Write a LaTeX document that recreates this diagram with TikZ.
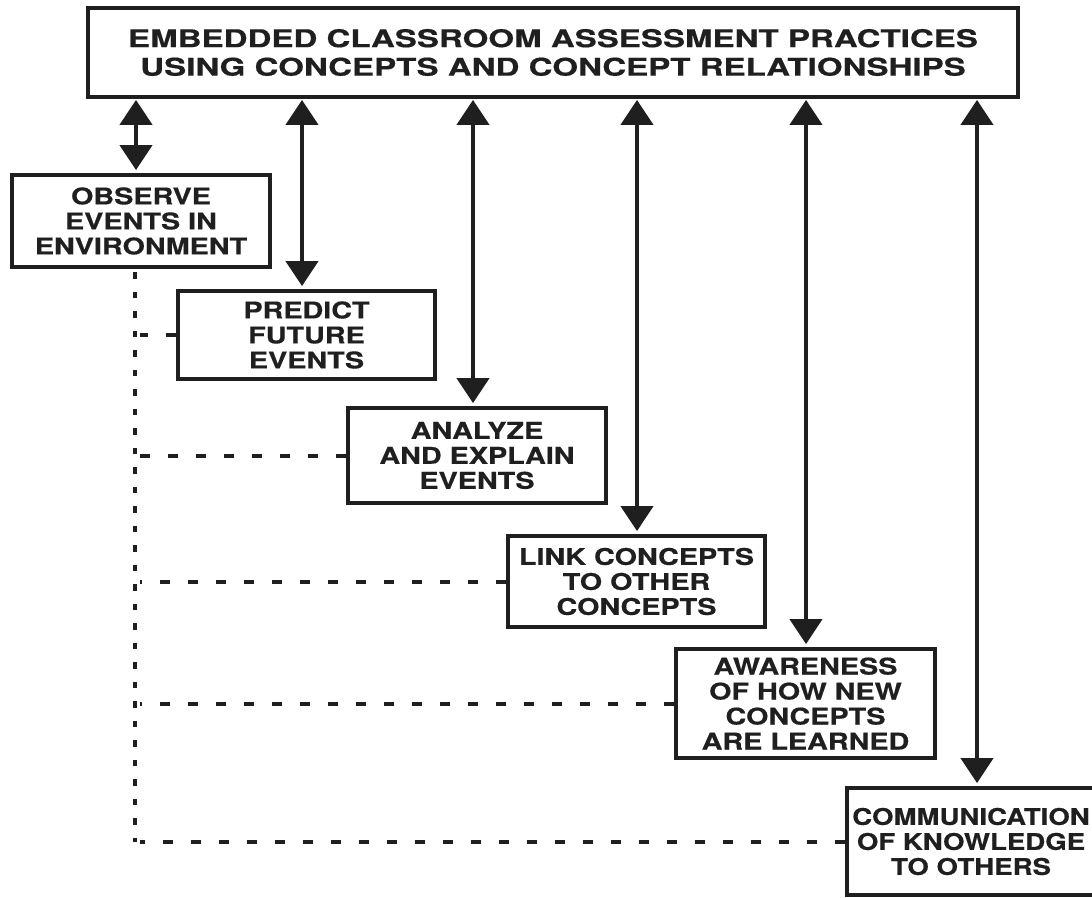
\documentclass[tikz,border=0pt]{standalone}
\usepackage{fontspec}
\newfontfamily\heavyfont{TeX Gyre Heros}[FakeStretch=1.25,FakeBold=0.5]
\newfontfamily\snugfont{TeX Gyre Heros}[FakeStretch=1.2,FakeBold=0.5]
\newfontfamily\headfont{TeX Gyre Heros}[FakeStretch=1.35,FakeBold=0.5]
\usetikzlibrary{arrows.meta}
\begin{document}
\begin{tikzpicture}[x=1pt,y=-1pt,
  stage/.style={draw=black!88, line width=3.8pt, align=center, inner sep=0pt,
    text=black!88, font=\heavyfont\bfseries\fontsize{23}{25}\selectfont},
  headbox/.style={stage, font=\headfont\bfseries\fontsize{24.5}{28.5}\selectfont},
  twoway/.style={draw=black!88, line width=4.2pt,
    {Triangle[width=32pt,length=25pt]}-{Triangle[width=32pt,length=25pt]},
    shorten <=1pt, shorten >=3pt},
  trunkline/.style={draw=black!88, line width=4.5pt, dash pattern=on 6.5pt off 13pt},
  branchline/.style={draw=black!88, line width=4pt, dash pattern=on 10pt off 18pt,
    shorten >=5pt}
]
\useasboundingbox (0,0) rectangle (1092,897);
\clip (0,0) rectangle (1092,897);
\fill[white] (0,0) rectangle (1092,897);

% header and the six practice boxes
\node[headbox, minimum width=930pt, minimum height=89pt] (head) at (553,52.5)
  {EMBEDDED CLASSROOM ASSESSMENT PRACTICES\\USING CONCEPTS AND CONCEPT RELATIONSHIPS};
\node[stage, minimum width=258pt, minimum height=92pt] (observe) at (141,221)
  {OBSERVE\\EVENTS IN\\ENVIRONMENT};
\node[stage, minimum width=257pt, minimum height=88pt] (predict) at (306.5,335)
  {PREDICT\\FUTURE\\EVENTS};
\node[stage, minimum width=258pt, minimum height=95pt] (analyze) at (477,455.5)
  {ANALYZE\\AND EXPLAIN\\EVENTS};
\node[stage, minimum width=257pt, minimum height=91pt] (link) at (636.5,581.5)
  {LINK CONCEPTS\\TO OTHER\\CONCEPTS};
\node[stage, minimum width=259pt, minimum height=109pt] (aware) at (805.5,703.5)
  {AWARENESS\\OF HOW NEW\\CONCEPTS\\ARE LEARNED};
\node[stage, font=\snugfont\bfseries\fontsize{23}{25}\selectfont,
  minimum width=248pt, minimum height=107pt] (comm) at (971,841.5)
  {COMMUNICATION\\OF KNOWLEDGE\\TO OTHERS};

% columns of the two-way arrows
\coordinate (c1) at (136,0);
\coordinate (c2) at (302,0);
\coordinate (c3) at (473,0);
\coordinate (c4) at (637,0);
\coordinate (c5) at (806,0);
\coordinate (c6) at (977,0);

\draw[twoway] (head.south -| c1) -- (observe.north -| c1);
\draw[twoway] (head.south -| c2) -- (predict.north -| c2);
\draw[twoway] (head.south -| c3) -- (analyze.north -| c3);
\draw[twoway] (head.south -| c4) -- (link.north -| c4);
\draw[twoway] (head.south -| c5) -- (aware.north -| c5);
\draw[twoway] (head.south -| c6) -- (comm.north -| c6);

% dotted trunk under the first box with dashed branches
\coordinate (trunktop) at (135,272);
\coordinate (trunkbot) at (135,842);
\draw[trunkline] (trunktop) -- (trunkbot);
\draw[branchline] (predict.west) -- (predict.west -| trunkbot);
\draw[branchline] (analyze.west) -- (analyze.west -| trunkbot);
\draw[branchline] (link.west) -- (link.west -| trunkbot);
\draw[branchline] (aware.west) -- (aware.west -| trunkbot);
\draw[branchline] (comm.west) -- (comm.west -| trunkbot);
\end{tikzpicture}
\end{document}
